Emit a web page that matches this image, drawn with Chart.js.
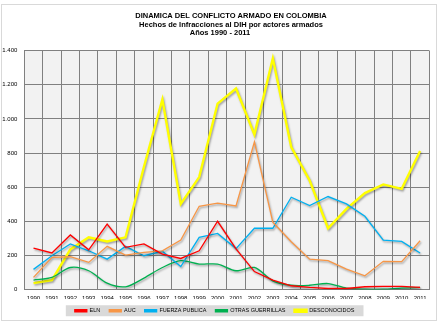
<!DOCTYPE html>
<html>
<head>
<meta charset="utf-8">
<script src="https://cdn.jsdelivr.net/npm/chart.js@4/dist/chart.umd.min.js"></script>
<style>
  html, body { margin: 0; padding: 0; background: #fff; }
  #wrap { width: 442px; height: 326px; }
</style>
</head>
<body>
<div id="wrap"><canvas id="chart" width="442" height="326"></canvas></div>
<script>
// chart values
const years = ['1990', '1991', '1992', '1993', '1994', '1995', '1996', '1997', '1998', '1999', '2000',
    '2001', '2002', '2003', '2004', '2005', '2006', '2007', '2008', '2009', '2010', '2011'];
const titleLines = ['DINAMICA DEL CONFLICTO ARMADO EN COLOMBIA', 'Hechos de Infracciones al DIH por actores armados', 'Años 1990 - 2011'];
const seriesNames = ['ELN', 'AUC', 'FUERZA PUBLICA', 'OTRAS GUERRILLAS', 'DESCONOCIDOS'];
const eln = [243, 214, 320, 233, 384, 247, 267, 208, 182, 227, 400, 238, 105, 55, 22, 12, 6, 6, 16, 18, 18, 12];
const auc = [71, 188, 192, 159, 253, 202, 218, 227, 290, 488, 506, 490, 865, 394, 280, 178, 169, 120, 80, 165, 163, 286];
const fuerzaPublica = [118, 198, 267, 227, 178, 253, 198, 224, 135, 306, 329, 240, 359, 359, 541, 492, 545, 502, 429, 290, 282, 214];
const otrasGuerrillas = [55, 71, 129, 110, 37, 16, 67, 129, 169, 149, 149, 110, 129, 51, 25, 25, 35, 8, 2, 2, 8, 12];
const desconocidos = [37, 55, 235, 306, 282, 306, 720, 1114, 502, 659, 1090, 1178, 908, 1355, 835, 639, 359, 473, 565, 616, 590, 812];
const yTicks = [0, 200, 400, 600, 800, 1000, 1200, 1400];

const colors = ['#FF0000', '#F79646', '#00B0F0', '#00B050', '#FFFF00'];
const widths = [1.3, 1.3, 1.3, 1.3, 2.4];
const values = [eln, auc, fuerzaPublica, otrasGuerrillas, desconocidos];

const datasets = seriesNames.map((name, i) => {
    return {
        label: name,
        data: values[i],
        borderColor: colors[i],
        backgroundColor: colors[i],
        borderWidth: widths[i],
        pointRadius: 0,
        tension: i === 3 ? 0.3 : 0,
        fill: false
    };
});

const frame = {
    id: 'frame',
    beforeDraw(chart) {
        const ctx = chart.ctx;
        const a = chart.chartArea;
        ctx.save();
        ctx.fillStyle = '#fff';
        ctx.fillRect(0, 0, chart.width, chart.height);
        ctx.strokeStyle = '#D9D9D9';
        ctx.lineWidth = 1;
        ctx.strokeRect(1.5, 4.5, 435, 316);
        ctx.fillStyle = '#F2F2F2';
        ctx.fillRect(a.left, a.top, a.right - a.left, a.bottom - a.top);

        // legend background
        const hb = chart.legend.legendHitBoxes;
        if (hb && hb.length) {
            const l = Math.min(...hb.map(h => h.left)) - 9;
            const r = Math.max(...hb.map(h => h.left + h.width)) + 9;
            const t = hb[0].top + hb[0].height / 2 - 5.5;
            ctx.fillStyle = '#D9D9D9';
            ctx.fillRect(l, t, r - l, 11);
        }

        // title
        ctx.fillStyle = '#000';
        ctx.font = 'bold 7.5px "Liberation Sans", Arial, sans-serif';
        ctx.textAlign = 'center';
        ctx.textBaseline = 'middle';
        ctx.fillText(titleLines[0], 231, 16);
        ctx.fillText(titleLines[1], 231, 24.5);
        ctx.fillText(titleLines[2], 220, 33);
        ctx.restore();
    },
    beforeDatasetDraw(chart) {
        const ctx = chart.ctx;
        ctx.save();
        ctx.shadowColor = 'rgba(0,0,0,0.35)';
        ctx.shadowBlur = 2;
        ctx.shadowOffsetX = 1;
        ctx.shadowOffsetY = 1.5;
    },
    afterDatasetDraw(chart) {
        chart.ctx.restore();
    }
};

const tickFont = { family: '"Liberation Sans", Arial, sans-serif', size: 6 };
const legendFont = { family: '"Liberation Sans", Arial, sans-serif', size: 5.5 };

new Chart(document.getElementById('chart'), {
    type: 'line',
    data: { labels: years, datasets: datasets },
    options: {
        responsive: false,
        animation: false,
        layout: { padding: { left: 0, right: 12.7, top: 50.7, bottom: 2.5 } },
        plugins: {
            title: { display: false },
            tooltip: { enabled: false },
            legend: {
                position: 'bottom',
                labels: {
                    boxWidth: 12,
                    boxHeight: 2,
                    padding: 9,
                    color: '#000',
                    font: legendFont
                }
            }
        },
        scales: {
            x: {
                offset: true,
                grid: { offset: true, color: '#808080', drawTicks: false },
                border: { color: '#808080' },
                ticks: { color: '#000', font: tickFont, padding: 5, maxRotation: 0, autoSkip: false },
                afterFit: scale => { scale.height = 9.5; }
            },
            y: {
                min: 0,
                max: 1400,
                afterBuildTicks: scale => { scale.ticks = yTicks.map(v => ({ value: v })); },
                grid: { color: '#808080', drawTicks: false },
                border: { color: '#808080' },
                ticks: {
                    color: '#000',
                    font: tickFont,
                    padding: 7,
                    callback: v => v.toLocaleString('de-DE')
                },
                afterFit: scale => { scale.width = 24.3; }
            }
        }
    },
    plugins: [frame]
});
</script>
</body>
</html>
